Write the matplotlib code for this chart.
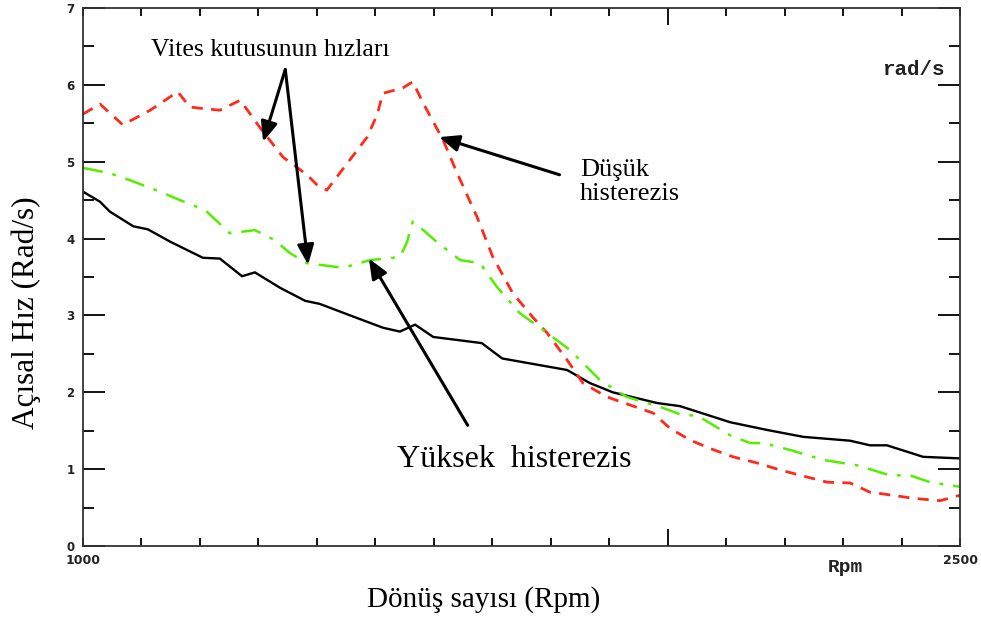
import matplotlib.pyplot as plt
import numpy as np

# veri
rpm_siyah = [1000, 1029, 1046, 1086, 1111, 1149, 1205, 1234, 1272, 1294, 1337, 1380, 1405,
             1457, 1513, 1542, 1568, 1599, 1682, 1717, 1828, 1867, 1906, 1982, 2021, 2107,
             2170, 2232, 2312, 2346, 2375, 2437, 2500]
hiz_siyah = [4.61, 4.48, 4.35, 4.16, 4.12, 3.96, 3.75, 3.74, 3.51, 3.56, 3.36, 3.19, 3.15,
             3.00, 2.84, 2.79, 2.88, 2.72, 2.64, 2.44, 2.29, 2.12, 2.00, 1.86, 1.82, 1.61,
             1.51, 1.42, 1.37, 1.31, 1.31, 1.16, 1.14]

rpm_kirmizi = [1000, 1029, 1068, 1115, 1162, 1183, 1234, 1269, 1303, 1342, 1383, 1400, 1417,
               1428, 1452, 1486, 1503, 1513, 1547, 1564, 1582, 1616, 1640, 1674, 1701, 1735,
               1770, 1794, 1828, 1855, 1896, 1975, 2004, 2038, 2072, 2112, 2153, 2192, 2232,
               2273, 2312, 2346, 2385, 2420, 2466, 2500]
hiz_kirmizi = [5.62, 5.75, 5.48, 5.67, 5.91, 5.71, 5.67, 5.80, 5.44, 5.06, 4.83, 4.70, 4.63,
               4.74, 4.98, 5.32, 5.61, 5.89, 5.96, 6.04, 5.76, 5.28, 4.85, 4.28, 3.76, 3.29,
               2.97, 2.77, 2.42, 2.12, 1.94, 1.73, 1.53, 1.38, 1.27, 1.16, 1.08, 0.99, 0.91,
               0.83, 0.82, 0.70, 0.66, 0.62, 0.59, 0.66]

rpm_yesil = [1000, 1046, 1080, 1132, 1166, 1209, 1251, 1294, 1328, 1354, 1383, 1445, 1491,
             1542, 1554, 1564, 1582, 1606, 1645, 1679, 1708, 1747, 1787, 1833, 1884, 1930,
             1987, 2026, 2050, 2107, 2141, 2163, 2209, 2266, 2324, 2380, 2414, 2449, 2500]
hiz_yesil = [4.92, 4.85, 4.76, 4.61, 4.50, 4.37, 4.07, 4.11, 3.98, 3.81, 3.68, 3.62, 3.72,
             3.76, 3.95, 4.22, 4.11, 3.95, 3.72, 3.68, 3.37, 3.03, 2.81, 2.55, 2.16, 1.94,
             1.81, 1.70, 1.70, 1.44, 1.34, 1.34, 1.25, 1.12, 1.05, 0.92, 0.92, 0.83, 0.77]

y_ticks = [0, 1, 2, 3, 4, 5, 6, 7]
x_labels = {1000: "1000", 2500: "2500"}

serif = "Liberation Serif"

fig = plt.figure(figsize=(9.81, 6.24), dpi=100)
ax = fig.add_axes([83/981, 78/624, 877/981, 538/624])

# egriler
ax.plot(rpm_siyah, hiz_siyah, color="black", lw=1.7, solid_joinstyle="miter")
ax.plot(rpm_kirmizi, hiz_kirmizi, color="#ff2a1a", lw=2.0, dashes=(4, 3))
ax.plot(rpm_yesil, hiz_yesil, color="#55ee00", lw=1.8, dashes=(8, 4, 1.5, 4))

ax.set_xlim(1000, 2500)
ax.set_ylim(0, 7)

# eksen cizgileri ve tikler
for s in ax.spines.values():
    s.set_linewidth(1.3)
    s.set_color("#333333")

ax.set_yticks(y_ticks)
ax.set_yticklabels([str(v) for v in y_ticks], fontsize=8.5, fontweight="bold",
                   family="DejaVu Sans", color="#222222")
ax.set_yticks(np.arange(0.5, 7, 1.0), minor=True)
ax.tick_params(axis="y", which="major", direction="in", length=16, width=1.3,
               right=True, pad=6)
ax.tick_params(axis="y", which="minor", direction="in", length=8, width=1.3, right=True)

xt = list(range(1000, 2501, 100))
ax.set_xticks(xt)
ax.set_xticklabels([x_labels.get(v, "") for v in xt], fontsize=9, fontweight="bold",
                   family="DejaVu Sans", color="#222222")
ax.tick_params(axis="x", which="major", direction="in", length=6, width=1.3,
               top=True, pad=6)
# 2000 tiki daha uzun
for t in ax.xaxis.get_major_ticks():
    if t.get_loc() == 2000:
        t.tick1line.set_markersize(12)
        t.tick2line.set_markersize(12)

ax.text(0.982, 0.885, "rad/s", transform=ax.transAxes, ha="right", va="center",
        fontsize=15, fontweight="bold", family="Liberation Mono", color="#222222")
ax.text(0.869, -0.04, "Rpm", transform=ax.transAxes, ha="center", va="center",
        fontsize=14, fontweight="bold", family="Liberation Mono", color="#222222")

# eksen basliklari
fig.text(26/981, 1 - 313/624, "Açısal Hız (Rad/s)", rotation=90, ha="center",
         va="center", fontsize=22.5, family=serif)
fig.text(484/981, 1 - 600/624, "Dönüş sayısı (Rpm)", ha="center", va="center",
         fontsize=21, family=serif)

# aciklamalar ve oklar
ok = dict(arrowstyle="-|>,head_length=1.2,head_width=0.5", color="black", lw=2.2,
          shrinkA=0, shrinkB=0)
ax.text(1320, 6.46, "Vites kutusunun hızları", ha="center", va="center",
        fontsize=18.5, family=serif)
ax.annotate("", xy=(1308, 5.26), xytext=(1346, 6.2), arrowprops=ok)
ax.annotate("", xy=(1385, 3.66), xytext=(1346, 6.2), arrowprops=ok)

ax.text(1850, 4.74, "Düşük\nhisterezis", ha="left", va="center", fontsize=19,
        family=serif, linespacing=1.1)
ax.annotate("", xy=(1609, 5.32), xytext=(1815, 4.83), arrowprops=ok)

ax.text(1737, 1.12, "Yüksek  histerezis", ha="center", va="center", fontsize=23,
        family=serif)
ax.annotate("", xy=(1489, 3.74), xytext=(1658, 1.57), arrowprops=ok)

fig.savefig("out.png", dpi=100)
